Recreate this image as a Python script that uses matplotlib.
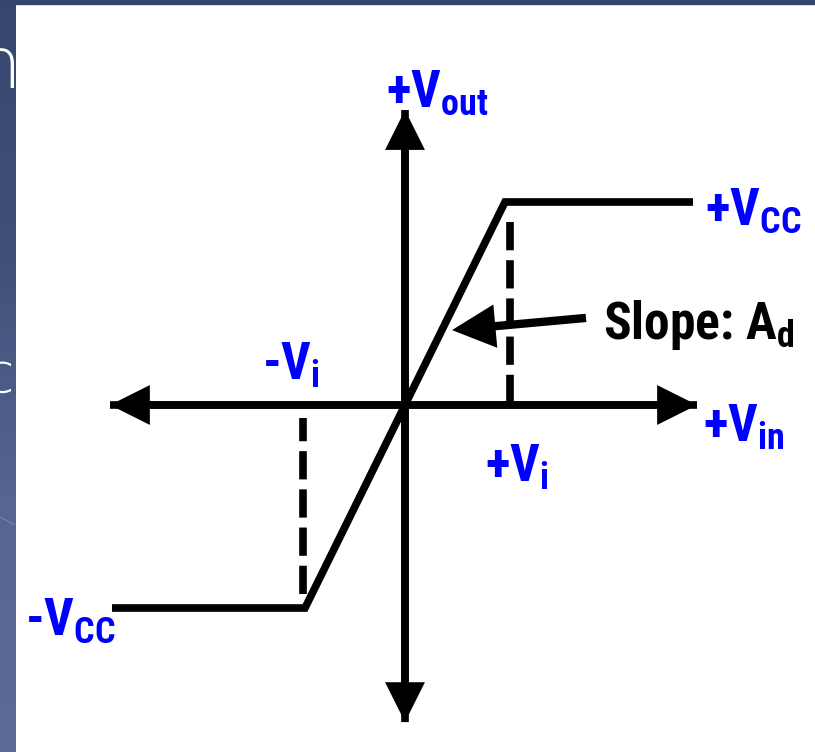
import numpy as np
import matplotlib
matplotlib.use("Agg")
import matplotlib.pyplot as plt
from matplotlib import font_manager
from matplotlib.patches import Rectangle

# pick a narrow bold sans if one is installed
names = {f.name for f in font_manager.fontManager.ttflist}
family = "Liberation Sans"
for cand in ["Liberation Sans Narrow", "Roboto Condensed", "Open Sans Condensed",
             "DejaVu Sans Condensed", "Noto Sans Condensed"]:
    if cand in names:
        family = cand
        break
narrow = family != "Liberation Sans"

plt.rcParams["font.family"] = [family, "DejaVu Sans"]
plt.rcParams["font.weight"] = "bold"
plt.rcParams["mathtext.fontset"] = "custom"
for k in ("rm", "it", "bf", "sf"):
    plt.rcParams["mathtext." + k] = family + ":bold"

# transfer characteristic (Vin in units of Vi, Vout in units of Vcc)
vin = [-2.93, -1.0, 1.0, 2.88]
vout = [-1.0, -1.0, 1.0, 1.0]

# dashed markers at +/- Vi
vi_marks = [-1.0, 1.0]

# label texts
labels = {
    "vout": r"+V$_{\rm out}$",
    "vcc_p": r"+V$_{\rm CC}$",
    "vcc_m": r"-V$_{\rm CC}$",
    "vin": r"+V$_{\rm in}$",
    "vi_p": r"+V$_{\rm i}$",
    "vi_m": r"-V$_{\rm i}$",
    "slope": r"Slope: A$_{\rm d}$",
}

blue = "#0000ff"
W, H = 815, 752
fig = plt.figure(figsize=(W / 100, H / 100), dpi=100)
ax = fig.add_axes([0, 0, 1, 1])
ax.set_xlim(-4.05, 4.10)
ax.set_ylim(-347 / 203, 405 / 203)
ax.axis("off")

# slide remnants: dark top band and left strip
grad = np.linspace(0, 1, 200).reshape(-1, 1)
strip_ax = fig.add_axes([0, 0, 15 / W, 1])
strip_ax.axis("off")
cm = matplotlib.colors.LinearSegmentedColormap.from_list(
    "s", ["#36476f", "#3f5079", "#566691", "#5b6b97"])
strip_ax.imshow(grad, aspect="auto", cmap=cm, extent=[0, 1, 0, 1], origin="upper")
strip_ax.set_xlim(0, 1)
strip_ax.set_ylim(0, 1)
strip_ax.plot([0, 1], [1 - 517 / H, 1 - 525 / H], color="#8090b8", lw=0.6)
strip_ax.text(-1.6, 1 - 88 / H, "n", color="white", fontsize=52, weight="light",
              family="DejaVu Sans", clip_on=True)
strip_ax.text(-1.1, 1 - 392 / H, "c", color="white", fontsize=40, weight="light",
              family="DejaVu Sans", clip_on=True)
fig.patches.append(Rectangle((0, 1 - 4 / H), 1, 4 / H, transform=fig.transFigure,
                             color="#34466e", zorder=5))

lw = 5.5
arrow = dict(arrowstyle="-|>,head_length=0.9,head_width=0.45", color="black",
             lw=lw, mutation_scale=22, shrinkA=0, shrinkB=0,
             joinstyle="miter", capstyle="butt")

# axes with arrowheads
ax.annotate("", xy=(2.92, 0), xytext=(-2.95, 0), arrowprops=arrow)
ax.annotate("", xy=(-2.95, 0), xytext=(2.92, 0), arrowprops=arrow)
ax.annotate("", xy=(0, 1.453), xytext=(0, -1.562), arrowprops=arrow)
ax.annotate("", xy=(0, -1.562), xytext=(0, 1.453), arrowprops=arrow)

# transfer curve
ax.plot(vin, vout, color="black", lw=lw, solid_joinstyle="miter", solid_capstyle="butt")

# dashed drop lines
ax.plot([vi_marks[1] + 0.05] * 2, [0.9, 0.0], color="black", lw=lw,
        linestyle=(0, (3.7, 1.3)), dash_capstyle="butt")
ax.plot([vi_marks[0] - 0.02] * 2, [-0.93, -0.065], color="black", lw=lw,
        linestyle=(0, (3.7, 1.3)), dash_capstyle="butt")

# slope pointer
ax.annotate("", xy=(0.47, 0.369), xytext=(1.81, 0.429),
            arrowprops=dict(arrow, lw=6, mutation_scale=24))

fs = 37 if narrow else 33
ax.text(-0.19, 1.468, labels["vout"], color=blue, fontsize=fs)
ax.text(3.00, 0.887, labels["vcc_p"], color=blue, fontsize=fs)
ax.text(-3.80, -1.133, labels["vcc_m"], color=blue, fontsize=fs)
ax.text(2.98, -0.182, labels["vin"], color=blue, fontsize=fs)
ax.text(0.80, -0.379, labels["vi_p"], color=blue, fontsize=fs)
ax.text(-1.43, 0.123, labels["vi_m"], color=blue, fontsize=fs)
ax.text(1.98, 0.325, labels["slope"], color="black", fontsize=fs)

fig.savefig("out.png", dpi=100)
